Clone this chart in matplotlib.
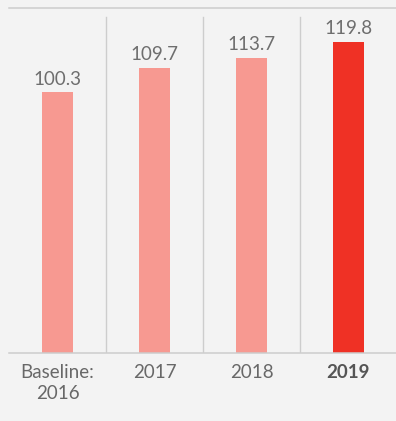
import matplotlib.pyplot as plt

# index values by year
labels = ["Baseline:\n2016", "2017", "2018", "2019"]
values = [100.3, 109.7, 113.7, 119.8]
value_text = ["100.3", "109.7", "113.7", "119.8"]

light = "#F79991"
red = "#EF3125"
colors = [light, light, light, red]
bg = "#F3F3F3"
rule = "#CDCDCD"

plt.rcParams['font.family'] = ['Lato', 'DejaVu Sans']

fig = plt.figure(figsize=(3.96, 4.21), dpi=100, facecolor=bg)
ax = fig.add_axes([9 / 396, 68 / 421, 387 / 396, 345 / 421], facecolor=bg)

x = range(len(values))
bars = ax.bar(x, values, width=0.32, color=colors, zorder=2)

for b, t in zip(bars, value_text):
    ax.annotate(t, (b.get_x() + b.get_width() / 2, b.get_height()),
                xytext=(0, 3.5), textcoords="offset points",
                ha="center", va="bottom", fontsize=13.5, color="#6E6E6E")

# thin separators between the years
for sep in [0.5, 1.5, 2.5]:
    ax.axvline(sep, ymin=0, ymax=0.974, color=rule, lw=1.0, zorder=1)

ax.set_xlim(-0.5, 3.49)
ax.set_ylim(0, 132.8)

ax.set_xticks(list(x))
ax.set_xticklabels(labels, fontsize=13.5, color="#686868", linespacing=1.25)
ax.get_xticklabels()[-1].set_fontweight("bold")
ax.get_xticklabels()[-1].set_color("#555555")
ax.tick_params(axis="x", length=0, pad=8)
ax.set_yticks([])

for s in ["left", "right"]:
    ax.spines[s].set_visible(False)
for s in ["top", "bottom"]:
    ax.spines[s].set_color(rule)
    ax.spines[s].set_linewidth(1.1)

fig.savefig("out.png", dpi=100, facecolor=bg)
